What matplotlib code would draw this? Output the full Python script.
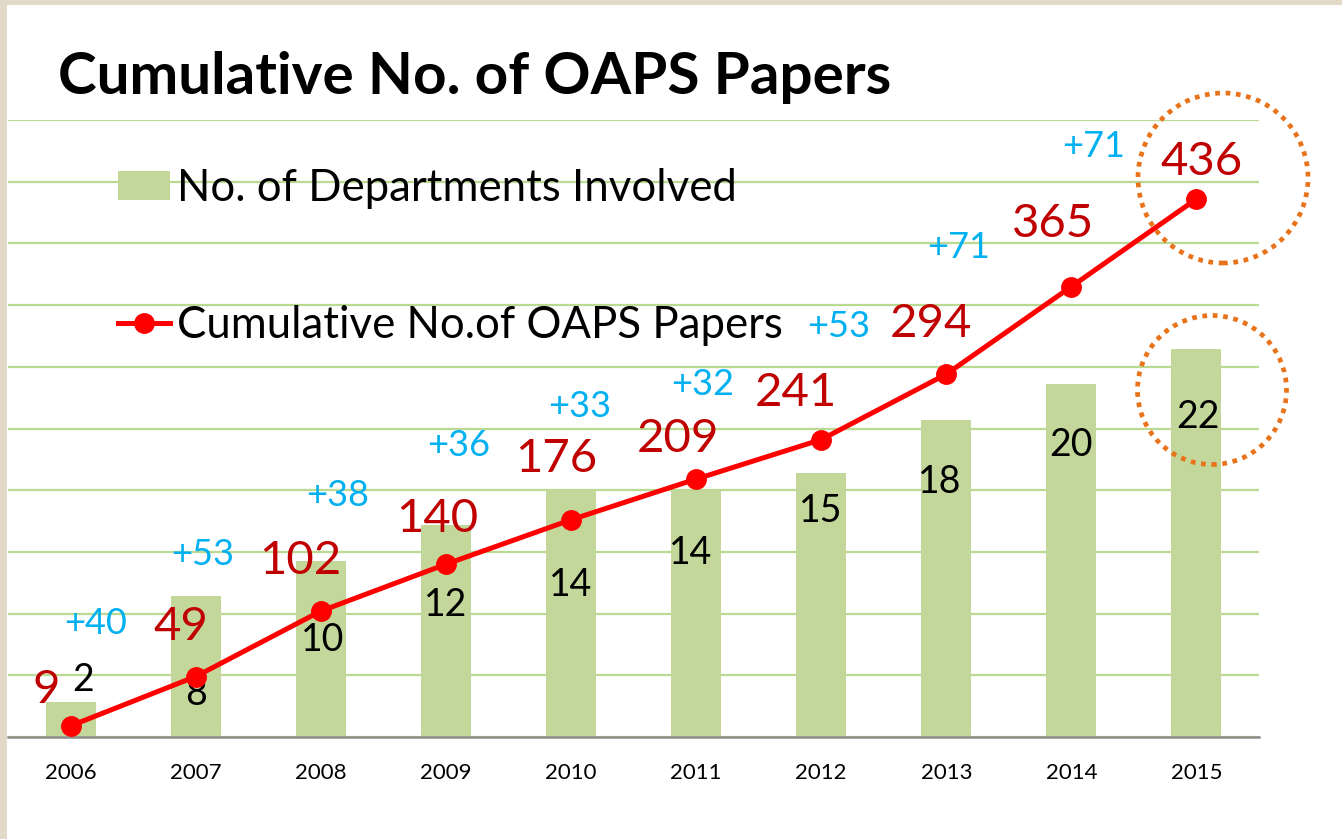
import matplotlib.pyplot as plt
import numpy as np
from matplotlib.patches import Rectangle, Ellipse
from matplotlib.lines import Line2D

plt.rcParams['font.family'] = ['Lato', 'DejaVu Sans']

# data
years = ['2006', '2007', '2008', '2009', '2010', '2011', '2012', '2013', '2014', '2015']
depts = [2, 8, 10, 12, 14, 14, 15, 18, 20, 22]
papers = [9, 49, 102, 140, 176, 209, 241, 294, 365, 436]
gains = np.diff(papers)  # +40, +53, ...

# label offsets in pixels (layout only)
dept_off = [(13, 22), (0, -98), (2, -79), (0, -80), (0, -95), (-5, -63), (0, -38), (-7, -62), (0, -61), (2, -68)]
paper_off = [(-24, 36), (-15, 50), (-20, 50), (-9, 45), (-15, 61), (-18, 40), (-25, 47), (-15, 50), (-18, 63), (5, 37)]
gain_off = [(25, 53), (7, 57), (17, 69), (13, 74), (9, 73), (6, 55), (17, 48), (12, 39), (22, 52)]

W, H = 1342, 839
fig = plt.figure(figsize=(W / 100, H / 100), dpi=100)
fig.patch.set_facecolor('#e3d9c9')
fig.patches.append(Rectangle((7 / W, 0), 1 - 7 / W, 1 - 5 / H, transform=fig.transFigure,
                             facecolor='white', edgecolor='none', zorder=-5))

ax = fig.add_axes([8 / W, 102 / H, (1259 - 8) / W, (737 - 120) / H])
ax.patch.set_alpha(0)
x = np.arange(len(years))
bars = ax.bar(x, depts, width=0.4, color='#c4d79b', zorder=2)
ax.set_xlim(-0.5, 9.5)
ax.set_ylim(0, 35)
ax.set_yticks(np.arange(0, 35.1, 3.5))
ax.set_yticklabels([])
ax.grid(axis='y', color='#b9da90', linewidth=1.6)
ax.set_axisbelow(True)
ax.set_xticks(x)
ax.set_xticklabels(years, fontsize=16)
ax.tick_params(length=0)
ax.tick_params(axis='x', pad=19)
for s in ['left', 'right', 'top']:
    ax.spines[s].set_visible(False)
ax.spines['bottom'].set_color('#8c8c8c')
ax.spines['bottom'].set_linewidth(1.8)

for i, v in enumerate(depts):
    ax.annotate(str(v), (x[i], v), xytext=dept_off[i], textcoords='offset pixels',
                ha='center', va='center', fontsize=27, color='black', zorder=5)

ax2 = ax.twinx()
ax2.set_ylim(0, 500)
ax2.set_yticks([])
for s in ['left', 'right', 'top', 'bottom']:
    ax2.spines[s].set_visible(False)
line, = ax2.plot(x, papers, color='#ff0000', linewidth=3.6, marker='o', markersize=14, zorder=4)

for i, v in enumerate(papers):
    ax2.annotate(str(v), (x[i], v), xytext=paper_off[i], textcoords='offset pixels',
                 ha='center', va='center', fontsize=34, color='#c00000')
for i, g in enumerate(gains):
    ax2.annotate('+%d' % g, (x[i + 1], papers[i + 1]), xytext=(gain_off[i][0] - 125, gain_off[i][1]),
                 textcoords='offset pixels', ha='center', va='center', fontsize=26, color='#00b0f0')

bar_handle = Rectangle((0, 0), 1, 1, facecolor='#c4d79b', edgecolor='none')
line_handle = Line2D([], [], color='#ff0000', linewidth=3.6, marker='o', markersize=14)
ax2.legend([bar_handle, line_handle], ['No. of Departments Involved', 'Cumulative No.of OAPS Papers'],
           loc='upper left', bbox_to_anchor=(118 / W, 1 - 168 / H), bbox_transform=fig.transFigure,
           frameon=False, fontsize=31.5, borderpad=0, borderaxespad=0, labelspacing=2.2,
           handlelength=1.19, handleheight=0.64, handletextpad=0.16)

fig.text(58 / W, 1 - 77 / H, 'Cumulative No. of OAPS Papers', fontsize=42, fontweight='bold',
         va='center', ha='left')

for cx, cy, d in [(1223, 178, 170), (1212, 390, 149)]:
    fig.patches.append(Ellipse((cx / W, 1 - cy / H), d / W, d / H, transform=fig.transFigure,
                               fill=False, edgecolor='#e8731a', linewidth=3.4,
                               linestyle=(0, (1, 1.2)), zorder=6))

fig.savefig('out.png', dpi=100, facecolor=fig.get_facecolor())
